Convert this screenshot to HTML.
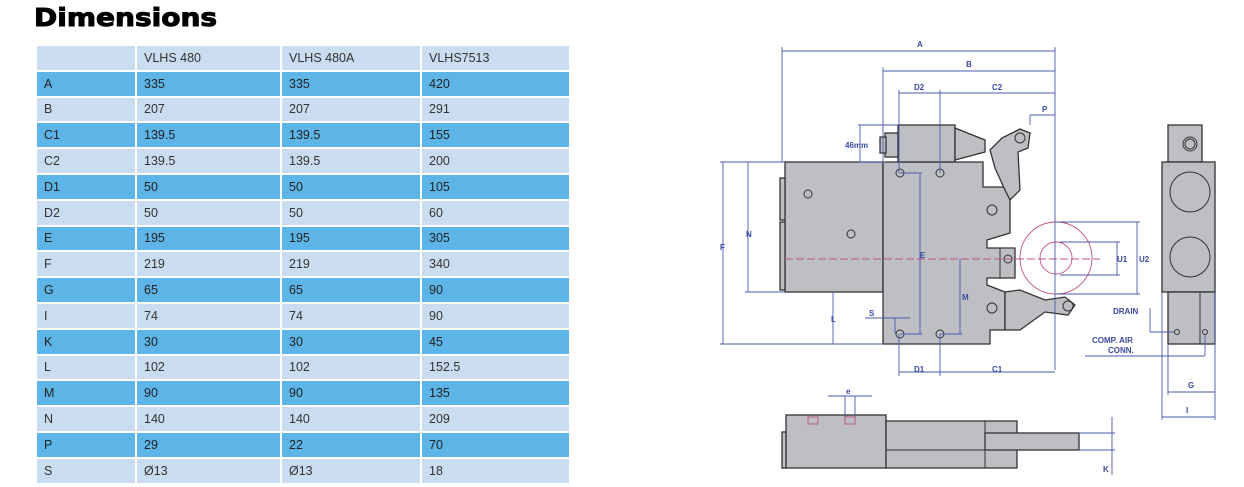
<!DOCTYPE html>
<html><head><meta charset="utf-8"><style>
body{margin:0;width:1244px;height:487px;background:#fff;overflow:hidden;font-family:"Liberation Sans",sans-serif;position:relative}
h1{position:absolute;left:34px;top:3px;margin:0;font-size:25px;font-weight:900;letter-spacing:0px;transform:scaleX(1.12);transform-origin:left;font-family:"DejaVu Sans","Liberation Sans",sans-serif;-webkit-text-stroke:1px #000}
table{position:absolute;left:35px;top:44px;border-collapse:collapse;width:536px}
td{height:23.8px;padding:0 0 0 7px;font-size:12.5px;color:#333;border:2px solid #fff;background:#cadcef}
tr.b td{background:#5db4e6;color:#222}
td:nth-child(1){width:91px}td:nth-child(2){width:136px}td:nth-child(3){width:131px}
svg{position:absolute;left:0;top:0}
</style></head><body>
<h1>Dimensions</h1>
<table>
<tr><td></td><td>VLHS 480</td><td>VLHS 480A</td><td>VLHS7513</td></tr>
<tr class="b"><td>A</td><td>335</td><td>335</td><td>420</td></tr>
<tr><td>B</td><td>207</td><td>207</td><td>291</td></tr>
<tr class="b"><td>C1</td><td>139.5</td><td>139.5</td><td>155</td></tr>
<tr><td>C2</td><td>139.5</td><td>139.5</td><td>200</td></tr>
<tr class="b"><td>D1</td><td>50</td><td>50</td><td>105</td></tr>
<tr><td>D2</td><td>50</td><td>50</td><td>60</td></tr>
<tr class="b"><td>E</td><td>195</td><td>195</td><td>305</td></tr>
<tr><td>F</td><td>219</td><td>219</td><td>340</td></tr>
<tr class="b"><td>G</td><td>65</td><td>65</td><td>90</td></tr>
<tr><td>I</td><td>74</td><td>74</td><td>90</td></tr>
<tr class="b"><td>K</td><td>30</td><td>30</td><td>45</td></tr>
<tr><td>L</td><td>102</td><td>102</td><td>152.5</td></tr>
<tr class="b"><td>M</td><td>90</td><td>90</td><td>135</td></tr>
<tr><td>N</td><td>140</td><td>140</td><td>209</td></tr>
<tr class="b"><td>P</td><td>29</td><td>22</td><td>70</td></tr>
<tr><td>S</td><td>Ø13</td><td>Ø13</td><td>18</td></tr>
</table>
<svg width="1244" height="487" viewBox="0 0 1244 487" font-family="Liberation Sans,sans-serif" font-size="9" font-weight="bold" fill="#3a4aa0">
<g fill="#bdbfc2" stroke="#333" stroke-width="1.3">
<rect x="785" y="162" width="98" height="130"/>
<rect x="780" y="178" width="5" height="42"/><rect x="780" y="222" width="5" height="68"/>
<path d="M883 162 H983 V187 H1005 L1010 195 V233 L987 240 V248 H1015 V278 H987 V285 L1005 292 V330 L990 330 V344 H883 Z"/>
<rect x="898" y="125" width="57" height="37"/>
<rect x="885" y="133" width="13" height="24"/><rect x="880" y="137" width="6" height="16"/>
<path d="M955 128 L985 140 V152 L955 160 Z"/>
<path d="M990 150 L1002 138 L1020 129 L1030 133 L1028 148 L1018 152 L1020 190 L1010 200 L1005 190 L995 168 Z"/>
<path d="M1005 292 L1020 290 L1045 300 L1065 297 L1075 305 L1068 315 L1045 312 L1020 330 L1005 330 Z"/>
<rect x="1168" y="125" width="34" height="37"/>
<rect x="1162" y="162" width="53" height="130"/>
<rect x="1168" y="292" width="47" height="52"/>
<rect x="786" y="415" width="100" height="53"/><rect x="782" y="432" width="4" height="36"/>
<rect x="886" y="421" width="131" height="47"/>
<rect x="985" y="433" width="94" height="17"/>
</g>
<g fill="none" stroke="#333" stroke-width="1">
<line x1="1200" y1="292" x2="1200" y2="344"/><line x1="886" y1="450" x2="985" y2="450"/><line x1="985" y1="421" x2="985" y2="468"/>
<circle cx="1190" cy="144" r="7"/><circle cx="1190" cy="144" r="5"/>
<circle cx="1190" cy="192" r="20"/><circle cx="1190" cy="257" r="20"/>
<circle cx="1020" cy="138" r="5"/><circle cx="1068" cy="306" r="5"/>
<circle cx="808" cy="194" r="4"/><circle cx="851" cy="234" r="4"/>
<circle cx="900" cy="173" r="4"/><circle cx="940" cy="173" r="4"/><circle cx="900" cy="334" r="4"/><circle cx="940" cy="334" r="4"/>
<circle cx="992" cy="210" r="5"/><circle cx="992" cy="308" r="5"/><circle cx="1008" cy="259" r="4"/>
<rect x="1000" y="248" width="15" height="30"/>
<circle cx="1177" cy="332" r="2.5"/><circle cx="1205" cy="332" r="2.5"/>
</g>
<g fill="none" stroke="#c0508a" stroke-width="0.9">
<circle cx="1056" cy="258" r="36"/><circle cx="1056" cy="258" r="16"/>
<line x1="785" y1="259" x2="1100" y2="259" stroke-dasharray="8 3"/>
<rect x="808" y="417" width="10" height="7"/><rect x="845" y="417" width="10" height="7"/>
</g>
<g stroke="#4a5ab0" stroke-width="0.9" fill="none">
<line x1="782" y1="51" x2="1055" y2="51"/><line x1="782" y1="47" x2="782" y2="162"/><line x1="1055" y1="47" x2="1055" y2="370"/>
<line x1="883" y1="71" x2="1055" y2="71"/><line x1="883" y1="67" x2="883" y2="162"/>
<line x1="899" y1="93" x2="1055" y2="93"/><line x1="899" y1="90" x2="899" y2="173"/><line x1="940" y1="90" x2="940" y2="173"/>
<line x1="1030" y1="115" x2="1055" y2="115"/><line x1="1030" y1="115" x2="1030" y2="125"/>
<line x1="858" y1="125" x2="898" y2="125"/><line x1="858" y1="162" x2="885" y2="162"/><line x1="860" y1="125" x2="860" y2="162"/>
<line x1="720" y1="162" x2="785" y2="162"/><line x1="723" y1="162" x2="723" y2="344"/><line x1="720" y1="344" x2="883" y2="344"/>
<line x1="745" y1="162" x2="785" y2="162"/><line x1="748" y1="162" x2="748" y2="292"/><line x1="745" y1="292" x2="785" y2="292"/>
<line x1="833" y1="292" x2="833" y2="344"/>
<line x1="920" y1="173" x2="920" y2="334"/><line x1="900" y1="173" x2="922" y2="173"/><line x1="900" y1="334" x2="922" y2="334"/>
<line x1="960" y1="259" x2="960" y2="334"/><line x1="940" y1="334" x2="962" y2="334"/>
<line x1="865" y1="318" x2="910" y2="318"/><line x1="895" y1="318" x2="895" y2="334"/>
<line x1="899" y1="334" x2="899" y2="376"/><line x1="940" y1="334" x2="940" y2="376"/>
<line x1="899" y1="372" x2="1055" y2="372"/>
<line x1="1056" y1="222" x2="1140" y2="222"/><line x1="1056" y1="294" x2="1140" y2="294"/><line x1="1137" y1="222" x2="1137" y2="294"/>
<line x1="1060" y1="242" x2="1120" y2="242"/><line x1="1060" y1="275" x2="1120" y2="275"/><line x1="1117" y1="242" x2="1117" y2="275"/>
<line x1="1150" y1="308" x2="1150" y2="332"/><line x1="1150" y1="332" x2="1174" y2="332"/>
<line x1="1085" y1="356" x2="1205" y2="356"/><line x1="1205" y1="335" x2="1205" y2="356"/>
<line x1="1162" y1="292" x2="1162" y2="420"/><line x1="1215" y1="292" x2="1215" y2="420"/><line x1="1168" y1="344" x2="1168" y2="395"/>
<line x1="1168" y1="392" x2="1215" y2="392"/><line x1="1162" y1="417" x2="1215" y2="417"/>
<line x1="828" y1="396" x2="872" y2="396"/><line x1="845" y1="396" x2="845" y2="417"/><line x1="855" y1="396" x2="855" y2="417"/>
<line x1="1079" y1="433" x2="1115" y2="433"/><line x1="1079" y1="450" x2="1115" y2="450"/><line x1="1112" y1="417" x2="1112" y2="475"/>
</g>
<g font-size="8">
<text x="917" y="47">A</text><text x="966" y="67">B</text><text x="914" y="90">D2</text><text x="992" y="90">C2</text><text x="1042" y="112">P</text>
<text x="845" y="148">46mm</text><text x="720" y="250">F</text><text x="746" y="237">N</text><text x="920" y="258">E</text>
<text x="962" y="300">M</text><text x="831" y="322">L</text><text x="869" y="316">S</text>
<text x="914" y="372">D1</text><text x="992" y="372">C1</text>
<text x="1117" y="262">U1</text><text x="1139" y="262">U2</text>
<text x="1113" y="314">DRAIN</text><text x="1092" y="343">COMP. AIR</text><text x="1108" y="353">CONN.</text>
<text x="1188" y="388">G</text><text x="1186" y="413">I</text><text x="846" y="394">e</text><text x="1103" y="472">K</text>
</g>
</svg>
</body></html>
